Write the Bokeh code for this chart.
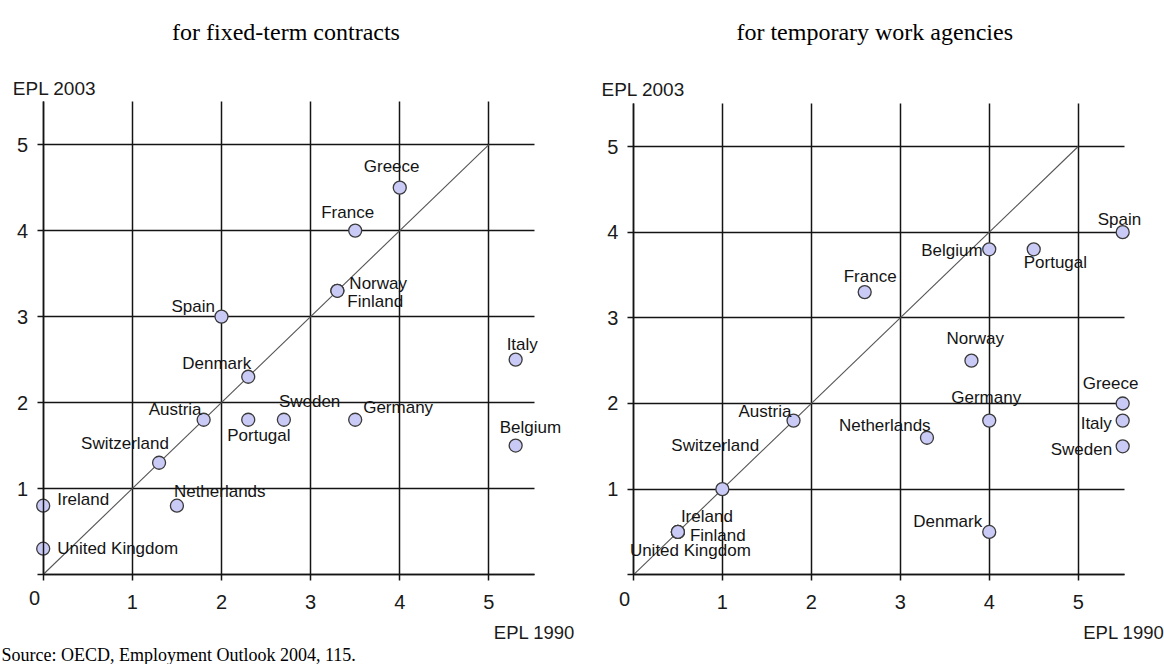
from bokeh.plotting import figure
from bokeh.models import Range1d, FixedTicker, ColumnDataSource, LabelSet, Label
from bokeh.layouts import row
from bokeh.embed import file_html
from bokeh.resources import INLINE
from bokeh.core.properties import value

# ---------------- data ----------------
ticks = [0, 1, 2, 3, 4, 5]
diag = [0, 5]

ftc_countries = ["Greece", "France", "Norway", "Finland", "Spain", "Italy", "Denmark",
                 "Austria", "Portugal", "Sweden", "Germany", "Belgium", "Switzerland",
                 "Netherlands", "Ireland", "United Kingdom"]
ftc_1990 = [4.0, 3.5, 3.3, 3.3, 2.0, 5.3, 2.3, 1.8, 2.3, 2.7, 3.5, 5.3, 1.3, 1.5, 0.0, 0.0]
ftc_2003 = [4.5, 4.0, 3.3, 3.3, 3.0, 2.5, 2.3, 1.8, 1.8, 1.8, 1.8, 1.5, 1.3, 0.8, 0.8, 0.3]

twa_countries = ["Spain", "Belgium", "Portugal", "France", "Norway", "Greece", "Italy",
                 "Sweden", "Germany", "Netherlands", "Austria", "Switzerland", "Ireland",
                 "Finland", "United Kingdom", "Denmark"]
twa_1990 = [5.5, 4.0, 4.5, 2.6, 3.8, 5.5, 5.5, 5.5, 4.0, 3.3, 1.8, 1.0, 0.5, 0.5, 0.5, 4.0]
twa_2003 = [4.0, 3.8, 3.8, 3.3, 2.5, 2.0, 1.8, 1.5, 1.8, 1.6, 1.8, 1.0, 0.5, 0.5, 0.5, 0.5]

titles = ["for fixed-term contracts", "for temporary work agencies"]
y_title = "EPL 2003"
x_title = "EPL 1990"
source_text = "Source: OECD, Employment Outlook 2004, 115."

# ---------------- label placement (pixels: left-edge offset, upward offset) ----------------
ftc_offsets = {
    "Greece": (-36, 21), "France": (-34, 18), "Norway": (12, 7), "Finland": (10, -11),
    "Spain": (-50, 10), "Italy": (-9, 15), "Denmark": (-66, 13), "Austria": (-55, 10),
    "Portugal": (-21, -16), "Sweden": (-5, 18), "Germany": (8, 12), "Belgium": (-16, 18),
    "Switzerland": (-78, 19), "Netherlands": (-3, 14), "Ireland": (14, 6),
    "United Kingdom": (14, 0),
}
twa_offsets = {
    "Spain": (-25, 13), "Belgium": (-68, -1), "Portugal": (-10, -13), "France": (-21, 16),
    "Norway": (-25, 22), "Greece": (-40, 20), "Italy": (-42, -3), "Sweden": (-72, -3),
    "Germany": (-38, 23), "Netherlands": (-88, 12), "Austria": (-55, 9),
    "Switzerland": (-51, 44), "Ireland": (3, 15), "Finland": (12, -3.5),
    "United Kingdom": (-48, -19), "Denmark": (-76, 10),
}

SANS = "Liberation Sans"
SERIF = "Liberation Serif"
H = 664
INK = "#141414"

# page geometry: where x=0 / y=0 fall and pixels per unit
geom_left = dict(page_left=0, w=582, ox=42.7, ppx=89.14, oy=574.0, ppy=85.97,
                 top=5.502, gx=5.515,
                 title=(285.5, 31.7), ytl=(12.3, 88.3), xtl=(493.3, 632.0),
                 zero=(34.0, 597.3))
geom_right = dict(page_left=582, w=582, ox=632.9, ppx=88.96, oy=574.3, ppy=85.66,
                  top=5.5, gx=5.52,
                  title=(874.2, 31.7), ytl=(601.0, 89.0), xtl=(1082.7, 632.0),
                  zero=(624.0, 598.3))


def build(countries, xs, ys, offsets, title, g, with_source=False):
    x0 = (g["page_left"] - g["ox"]) / g["ppx"]
    x1 = (g["page_left"] + g["w"] - g["ox"]) / g["ppx"]
    y0 = (g["oy"] - H) / g["ppy"]
    y1 = g["oy"] / g["ppy"]

    def dx(px):
        return (px - g["ox"]) / g["ppx"]

    def dy(py):
        return (g["oy"] - py) / g["ppy"]

    p = figure(width=g["w"], height=H,
               x_range=Range1d(x0, x1), y_range=Range1d(y0, y1),
               min_border=0, min_border_left=0, min_border_right=0,
               min_border_top=0, min_border_bottom=0,
               output_backend="svg", toolbar_location=None)
    p.outline_line_color = None
    p.background_fill_color = "white"
    p.border_fill_color = "white"

    for ax in (p.xaxis, p.yaxis):
        ax.fixed_location = 0
        ax.ticker = FixedTicker(ticks=ticks)
        ax.major_label_overrides = {0: ""}
        ax.minor_tick_line_color = None
        ax.major_tick_in = 0
        ax.major_tick_out = 6
        ax.major_tick_line_color = INK
        ax.major_tick_line_width = 1.5
        ax.axis_line_color = INK
        ax.axis_line_width = 1.5
        ax.major_label_text_font = SANS
        ax.major_label_text_font_size = "20px"
        ax.major_label_text_color = "#1a1a1a"
    p.xaxis.bounds = (0, g["gx"])
    p.xaxis.major_label_standoff = 14
    p.yaxis.bounds = (0, g["top"])
    p.yaxis.major_label_standoff = 9

    for gr in (p.xgrid, p.ygrid):
        gr.ticker = FixedTicker(ticks=ticks)
        gr.grid_line_color = INK
        gr.grid_line_width = 1.5
    p.ygrid.cross_bounds = (0, g["gx"])
    p.xgrid.cross_bounds = (0, g["top"])

    p.line(diag, diag, line_color="#555555", line_width=1.1)

    src = ColumnDataSource(dict(
        x=xs, y=ys, name=countries,
        dx=[offsets[c][0] for c in countries],
        dy=[offsets[c][1] for c in countries],
    ))
    p.scatter("x", "y", source=src, size=13, fill_color="#cacaf6",
              line_color="#3a3a3a", line_width=1.3)
    p.add_layout(LabelSet(x="x", y="y", text="name", x_offset="dx", y_offset="dy",
                          source=src, text_font=value(SANS), text_font_size="17px",
                          text_align="left", text_baseline="middle", text_color=INK))

    tx, ty = g["title"]
    p.add_layout(Label(x=dx(tx), y=dy(ty), text=title, text_font=SERIF,
                       text_font_size="24px", text_align="center",
                       text_baseline="alphabetic", text_color="black"))
    lx, ly = g["ytl"]
    p.add_layout(Label(x=dx(lx), y=dy(ly), text=y_title, text_font=SANS,
                       text_font_size="19px", text_align="left",
                       text_baseline="alphabetic", text_color="#1a1a1a"))
    lx, ly = g["xtl"]
    p.add_layout(Label(x=dx(lx), y=dy(ly), text=x_title, text_font=SANS,
                       text_font_size="18.5px", text_align="left",
                       text_baseline="alphabetic", text_color="#1a1a1a"))
    zx, zy = g["zero"]
    p.add_layout(Label(x=dx(zx), y=dy(zy), text="0", text_font=SANS,
                       text_font_size="20px", text_align="center",
                       text_baseline="middle", text_color="#1a1a1a"))
    if with_source:
        p.add_layout(Label(x=dx(1.0), y=dy(654.0), text=source_text, text_font=SERIF,
                           text_font_size="18px", text_align="left",
                           text_baseline="alphabetic", text_color="black"))
    return p


p1 = build(ftc_countries, ftc_1990, ftc_2003, ftc_offsets, titles[0], geom_left, True)
p2 = build(twa_countries, twa_1990, twa_2003, twa_offsets, titles[1], geom_right)

layout = row(p1, p2)
open("out.html", "w").write(file_html(layout, INLINE))
